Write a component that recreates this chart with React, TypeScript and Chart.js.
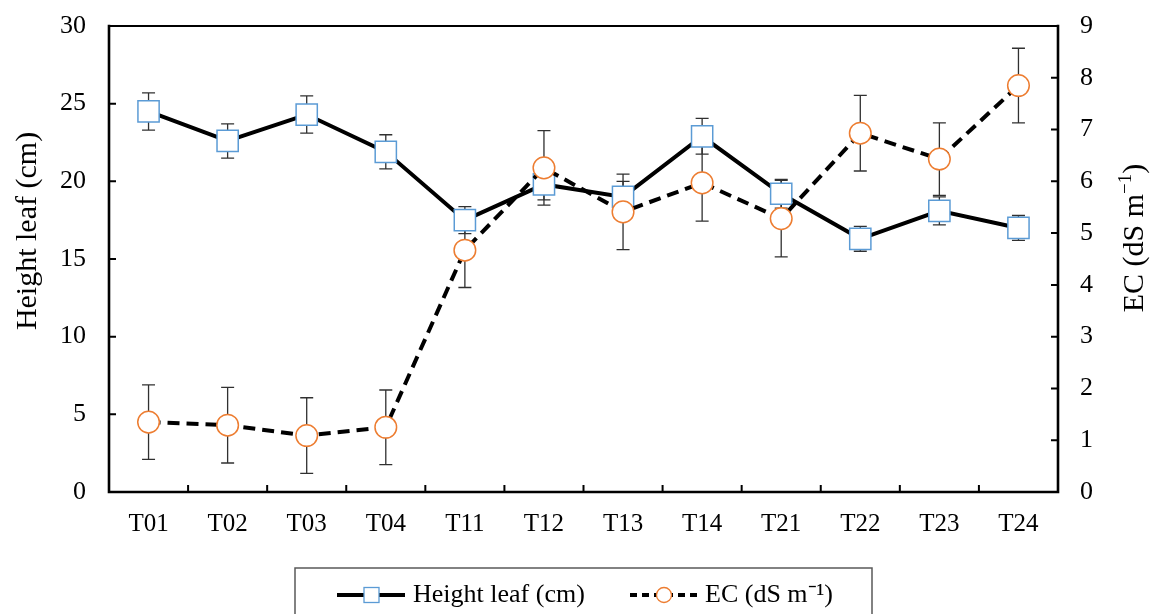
import React, { useEffect, useRef } from "react";
import { Chart, registerables } from "chart.js";

Chart.register(...registerables);

const categories = ["T01", "T02", "T03", "T04", "T11", "T12", "T13", "T14", "T21", "T22", "T23", "T24"];
const heightLeaf = [24.5, 22.6, 24.3, 21.9, 17.5, 19.8, 19.0, 22.9, 19.2, 16.3, 18.1, 17.0];
const heightErr = [1.2, 1.1, 1.2, 1.1, 0.87, 1.0, 1.0, 1.15, 0.93, 0.8, 0.9, 0.8];
const ecValues = [1.35, 1.29, 1.09, 1.25, 4.67, 6.26, 5.41, 5.97, 5.28, 6.93, 6.43, 7.85];
const ecErr = [0.72, 0.73, 0.73, 0.72, 0.72, 0.72, 0.73, 0.74, 0.74, 0.73, 0.7, 0.72];
const leftAxis = { min: 0, max: 30, step: 5 };
const rightAxis = { min: 0, max: 9, step: 1 };
const leftTitle = "Height leaf (cm)";
const rightTitleParts = ["EC (dS m", "\u22121", ")"];
const legendLabels = ["Height leaf (cm)", "EC (dS m\u207B\u00B9)"];

const FONT = "'Liberation Serif', 'Times New Roman', serif";
const BLUE = "#5B9BD5";
const ORANGE = "#ED7D31";

const errorBarPlugin = {
  id: "errorBars",
  beforeDatasetsDraw(chart: any) {
    const ctx = chart.ctx;
    chart.data.datasets.forEach((ds: any, di: number) => {
      const meta = chart.getDatasetMeta(di);
      const yScale = chart.scales[ds.yAxisID];
      meta.data.forEach((pt: any, i: number) => {
        const v = ds.data[i];
        const e = ds.errors[i];
        const yT = yScale.getPixelForValue(v + e);
        const yB = yScale.getPixelForValue(v - e);
        ctx.save();
        ctx.strokeStyle = "#303030";
        ctx.lineWidth = 1.3;
        ctx.beginPath();
        ctx.moveTo(pt.x, yT);
        ctx.lineTo(pt.x, yB);
        ctx.moveTo(pt.x - 6.5, yT);
        ctx.lineTo(pt.x + 6.5, yT);
        ctx.moveTo(pt.x - 6.5, yB);
        ctx.lineTo(pt.x + 6.5, yB);
        ctx.stroke();
        ctx.restore();
      });
    });
  },
};

const axesPlugin = {
  id: "axesFrame",
  beforeDatasetsDraw(chart: any) {
    const ctx = chart.ctx;
    const a = chart.chartArea;
    const x = chart.scales.x;
    const yl = chart.scales.yLeft;
    const yr = chart.scales.yRight;
    ctx.save();
    ctx.strokeStyle = "#000";
    ctx.lineCap = "square";
    ctx.lineWidth = 2;
    ctx.beginPath();
    ctx.moveTo(a.left, a.top);
    ctx.lineTo(a.right, a.top);
    ctx.stroke();
    ctx.lineWidth = 2.6;
    ctx.beginPath();
    ctx.moveTo(a.left, a.top);
    ctx.lineTo(a.left, a.bottom);
    ctx.lineTo(a.right, a.bottom);
    ctx.lineTo(a.right, a.top);
    ctx.stroke();
    ctx.lineCap = "butt";
    ctx.lineWidth = 2;
    ctx.beginPath();
    for (let v = leftAxis.min; v <= leftAxis.max; v += leftAxis.step) {
      const py = yl.getPixelForValue(v);
      ctx.moveTo(a.left, py);
      ctx.lineTo(a.left + 7, py);
    }
    for (let v = rightAxis.min; v <= rightAxis.max; v += rightAxis.step) {
      const py = yr.getPixelForValue(v);
      ctx.moveTo(a.right, py);
      ctx.lineTo(a.right - 7, py);
    }
    for (let i = 1; i < categories.length; i++) {
      const px = (x.getPixelForValue(i - 1) + x.getPixelForValue(i)) / 2;
      ctx.moveTo(px, a.bottom);
      ctx.lineTo(px, a.bottom - 7);
    }
    ctx.stroke();
    ctx.restore();
  },
};

const titlesLegendPlugin = {
  id: "titlesLegend",
  afterDraw(chart: any) {
    const ctx = chart.ctx;
    ctx.save();
    ctx.fillStyle = "#000";
    ctx.save();
    ctx.translate(28, 231);
    ctx.rotate(-Math.PI / 2);
    ctx.font = `30px ${FONT}`;
    ctx.textAlign = "center";
    ctx.textBaseline = "middle";
    ctx.fillText(leftTitle, 0, 0);
    ctx.restore();
    ctx.save();
    ctx.translate(1135, 238);
    ctx.rotate(-Math.PI / 2);
    ctx.textBaseline = "middle";
    ctx.textAlign = "left";
    const big = `30px ${FONT}`;
    const small = `19px ${FONT}`;
    ctx.font = big;
    const w0 = ctx.measureText(rightTitleParts[0]).width;
    const w2 = ctx.measureText(rightTitleParts[2]).width;
    ctx.font = small;
    const w1 = ctx.measureText(rightTitleParts[1]).width;
    let cx = -(w0 + w1 + w2) / 2;
    ctx.font = big;
    ctx.fillText(rightTitleParts[0], cx, 0);
    cx += w0;
    ctx.font = small;
    ctx.fillText(rightTitleParts[1], cx, -9);
    cx += w1;
    ctx.font = big;
    ctx.fillText(rightTitleParts[2], cx, 0);
    ctx.restore();

    const ly = 595;
    ctx.strokeStyle = "#595959";
    ctx.lineWidth = 1.5;
    ctx.strokeRect(295, 568, 577, 60);
    ctx.strokeStyle = "#000";
    ctx.lineWidth = 4;
    ctx.beginPath();
    ctx.moveTo(337, ly);
    ctx.lineTo(405, ly);
    ctx.stroke();
    ctx.fillStyle = "#fff";
    ctx.fillRect(364, ly - 7.5, 15, 15);
    ctx.strokeStyle = BLUE;
    ctx.lineWidth = 1.3;
    ctx.strokeRect(364, ly - 7.5, 15, 15);
    ctx.strokeStyle = "#000";
    ctx.lineWidth = 4;
    ctx.setLineDash([7, 5]);
    ctx.beginPath();
    ctx.moveTo(630, ly);
    ctx.lineTo(698, ly);
    ctx.stroke();
    ctx.setLineDash([]);
    ctx.fillStyle = "#fff";
    ctx.beginPath();
    ctx.arc(664, ly, 7.5, 0, Math.PI * 2);
    ctx.fill();
    ctx.strokeStyle = ORANGE;
    ctx.lineWidth = 1.3;
    ctx.stroke();
    ctx.fillStyle = "#000";
    ctx.font = `26px ${FONT}`;
    ctx.textAlign = "left";
    ctx.textBaseline = "middle";
    ctx.fillText(legendLabels[0], 413, ly);
    ctx.fillText(legendLabels[1], 705, ly);
    ctx.restore();
  },
};

export default function App() {
  const ref = useRef<HTMLCanvasElement>(null);
  useEffect(() => {
    if (!ref.current) return;
    const chart = new Chart(ref.current, {
      type: "line",
      data: {
        labels: categories,
        datasets: [
          {
            label: legendLabels[0],
            data: heightLeaf,
            errors: heightErr,
            yAxisID: "yLeft",
            order: 2,
            borderColor: "#000",
            borderWidth: 4,
            pointStyle: "rect",
            pointRadius: 15,
            pointBorderColor: BLUE,
            pointBackgroundColor: "#fff",
            pointBorderWidth: 1.5,
            tension: 0,
          } as any,
          {
            label: legendLabels[1],
            data: ecValues,
            errors: ecErr,
            yAxisID: "yRight",
            order: 1,
            borderColor: "#000",
            borderWidth: 4,
            borderDash: [12, 7],
            pointStyle: "circle",
            pointRadius: 10.8,
            pointBorderColor: ORANGE,
            pointBackgroundColor: "#fff",
            pointBorderWidth: 1.5,
            tension: 0,
          } as any,
        ],
      },
      options: {
        responsive: false,
        animation: false,
        events: [],
        layout: { padding: { top: 26, left: 0, right: 0, bottom: 0 } },
        plugins: { legend: { display: false }, tooltip: { enabled: false } },
        scales: {
          x: {
            type: "category",
            offset: true,
            grid: { display: false, drawTicks: false },
            border: { display: false },
            ticks: { color: "#000", font: { family: FONT, size: 25 }, padding: 17, maxRotation: 0 },
            afterFit: (s: any) => {
              s.height = 122;
              s.paddingLeft = 0;
              s.paddingRight = 0;
            },
          },
          yLeft: {
            type: "linear",
            position: "left",
            min: leftAxis.min,
            max: leftAxis.max,
            grid: { display: false, drawTicks: false },
            border: { display: false },
            ticks: { stepSize: leftAxis.step, color: "#000", font: { family: FONT, size: 26 }, padding: 23 },
            afterFit: (s: any) => {
              s.width = 109;
              s.paddingTop = 0;
              s.paddingBottom = 0;
            },
          },
          yRight: {
            type: "linear",
            position: "right",
            min: rightAxis.min,
            max: rightAxis.max,
            grid: { display: false, drawTicks: false },
            border: { display: false },
            ticks: { stepSize: rightAxis.step, color: "#000", font: { family: FONT, size: 26 }, padding: 22 },
            afterFit: (s: any) => {
              s.width = 95;
              s.paddingTop = 0;
              s.paddingBottom = 0;
            },
          },
        },
      } as any,
      plugins: [axesPlugin, errorBarPlugin, titlesLegendPlugin],
    });
    return () => chart.destroy();
  }, []);
  return (
    <canvas
      ref={ref}
      width={1153}
      height={614}
      style={{ position: "absolute", left: 0, top: 0, width: 1153, height: 614, display: "block" }}
    />
  );
}
